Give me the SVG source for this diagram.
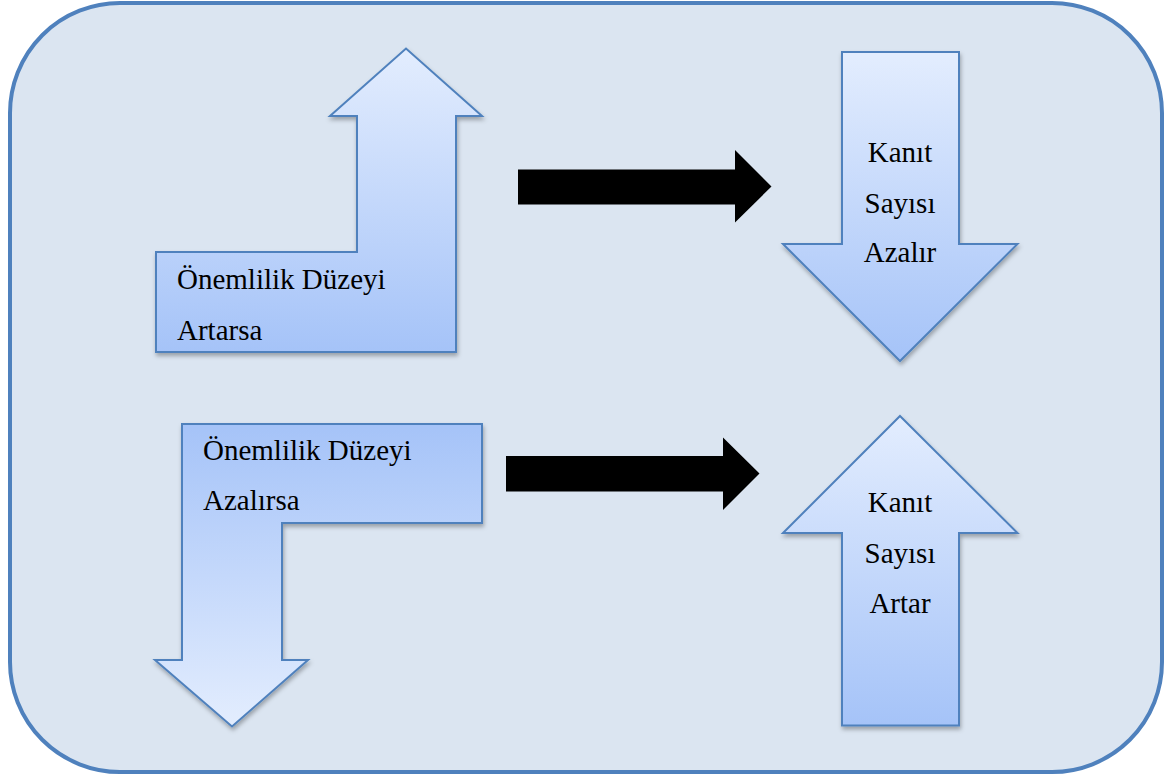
<svg xmlns="http://www.w3.org/2000/svg" width="1172" height="780" viewBox="0 0 1172 780">
  <defs>
    <linearGradient id="gUp" x1="0" y1="0" x2="0" y2="1">
      <stop offset="0" stop-color="#e3edfe"/>
      <stop offset="1" stop-color="#a5c3f8"/>
    </linearGradient>
    <linearGradient id="gDown" x1="0" y1="0" x2="0" y2="1">
      <stop offset="0" stop-color="#a5c3f8"/>
      <stop offset="1" stop-color="#e3edfe"/>
    </linearGradient>
    <filter id="sh" x="-10%" y="-10%" width="130%" height="130%">
      <feDropShadow dx="1" dy="3" stdDeviation="2" flood-color="#000" flood-opacity="0.3"/>
    </filter>
  </defs>
  <style>
    .frame { fill: #dbe5f1; stroke: #4f81bd; stroke-width: 4; }
    .shape { stroke: #4f81bd; stroke-width: 2; stroke-linejoin: miter; filter: url(#sh); }
    .blk { fill: #000; }
    .t { font-family: "Liberation Serif", "Times New Roman", serif; font-size: 29px; fill: #000; }
    .c { text-anchor: middle; }
  </style>
  <rect class="frame" x="10" y="3" width="1152" height="769" rx="110" ry="110"/>

  <g id="node-onemlilik-artarsa">
    <polygon class="shape" fill="url(#gDown)" points="156,252 357,252 357,116 330,116 406,48.5 482,116 456,116 456,352 156,352" style="fill:url(#gUp)"/>
    <text class="t" x="177" y="289">Önemlilik Düzeyi</text>
    <text class="t" x="177" y="340">Artarsa</text>
  </g>

  <g id="node-kanit-azalir">
    <polygon class="shape" fill="url(#gUp)" points="842,52 959,52 959,244 1017.5,244 900,361 783,244 842,244"/>
    <text class="t c" x="900" y="162">Kanıt</text>
    <text class="t c" x="900" y="213">Sayısı</text>
    <text class="t c" x="900" y="262">Azalır</text>
  </g>

  <g id="node-onemlilik-azalirsa">
    <polygon class="shape" fill="url(#gDown)" points="182,424 482,424 482,523 282,523 282,660 308,660 232,726.5 155,660 182,660"/>
    <text class="t" x="203" y="460">Önemlilik Düzeyi</text>
    <text class="t" x="203" y="510">Azalırsa</text>
  </g>

  <g id="node-kanit-artar">
    <polygon class="shape" fill="url(#gUp)" points="900,416 1017.5,533 959,533 959,725.5 842,725.5 842,533 783,533"/>
    <text class="t c" x="900" y="512">Kanıt</text>
    <text class="t c" x="900" y="563">Sayısı</text>
    <text class="t c" x="900" y="613">Artar</text>
  </g>

  <g id="connectors">
    <polygon class="blk" points="518,169.5 735,169.5 735,150 771.5,186.5 735,222.5 735,204.5 518,204.5"/>
    <polygon class="blk" points="506,456 723,456 723,437.5 759.5,473.5 723,510 723,491.5 506,491.5"/>
  </g>
</svg>
